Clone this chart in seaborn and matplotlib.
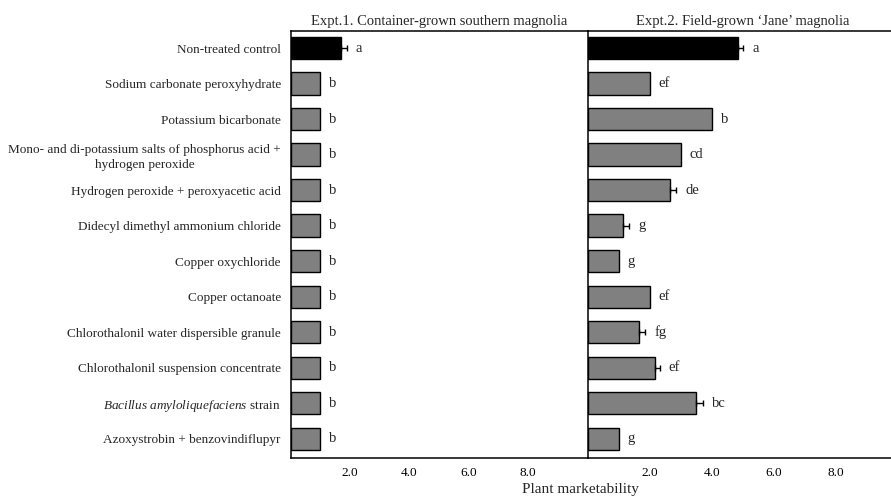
import numpy as np
import pandas as pd
import matplotlib
matplotlib.use("Agg")
import matplotlib.pyplot as plt
import seaborn as sns

# treatments, top to bottom
treatments = [
    "Non-treated control",
    "Sodium carbonate peroxyhydrate",
    "Potassium bicarbonate",
    "Mono- and di-potassium salts of phosphorus acid +\nhydrogen peroxide",
    "Hydrogen peroxide + peroxyacetic acid",
    "Didecyl dimethyl ammonium chloride",
    "Copper oxychloride",
    "Copper octanoate",
    "Chlorothalonil water dispersible granule",
    "Chlorothalonil suspension concentrate",
    r"$\it{Bacillus\ amyloliquefaciens}$ strain ",
    "Azoxystrobin + benzovindiflupyr",
]

# Expt.1 container-grown southern magnolia
expt1_values = [1.7, 1.0, 1.0, 1.0, 1.0, 1.0, 1.0, 1.0, 1.0, 1.0, 1.0, 1.0]
expt1_errors = [0.2, 0, 0, 0, 0, 0, 0, 0, 0, 0, 0, 0]
expt1_letters = ["a", "b", "b", "b", "b", "b", "b", "b", "b", "b", "b", "b"]

# Expt.2 field-grown 'Jane' magnolia
expt2_values = [4.84, 2.0, 4.0, 3.0, 2.65, 1.15, 1.0, 2.0, 1.66, 2.17, 3.49, 1.0]
expt2_errors = [0.18, 0, 0, 0, 0.2, 0.18, 0, 0, 0.19, 0.15, 0.22, 0]
expt2_letters = ["a", "ef", "b", "cd", "de", "g", "g", "ef", "fg", "ef", "bc", "g"]

panel_titles = ["Expt.1. Container-grown southern magnolia",
                "Expt.2. Field-grown \u2018Jane\u2019 magnolia"]
x_ticks = [0, 2, 4, 6, 8]
x_tick_labels = ["", "2.0", "4.0", "6.0", "8.0"]
x_label = "Plant marketability"

bar_colors = ["black"] + ["#808080"] * (len(treatments) - 1)

sns.set_style("white")
plt.rcParams["font.family"] = ["Liberation Serif", "DejaVu Serif"]
plt.rcParams["mathtext.fontset"] = "custom"
plt.rcParams["mathtext.rm"] = "Liberation Serif"
plt.rcParams["mathtext.it"] = "Liberation Serif:italic"

W, H = 891, 497
fig = plt.figure(figsize=(W / 100, H / 100), dpi=100)

top_px, bottom_px = 31, 458
ax_b = 1 - bottom_px / H
ax_h = (bottom_px - top_px) / H
ax1 = fig.add_axes([290.5 / W, ax_b, (587.7 - 290.5) / W, ax_h])
ax2 = fig.add_axes([587.7 / W, ax_b, 310 / W, ax_h])

panels = [
    (ax1, expt1_values, expt1_errors, expt1_letters, panel_titles[0]),
    (ax2, expt2_values, expt2_errors, expt2_letters, panel_titles[1]),
]

for ax, values, errors, letters, title in panels:
    df = pd.DataFrame({"treatment": treatments, "value": values})
    sns.barplot(data=df, x="value", y="treatment", hue="treatment",
                order=treatments, hue_order=treatments, palette=bar_colors,
                orient="h", errorbar=None, width=0.63, edgecolor="black",
                linewidth=1, legend=False, ax=ax)

    pos = np.arange(len(treatments))
    vals = np.array(values)
    errs = np.array(errors)
    has_err = errs > 0
    # only the upper half of each error bar is drawn
    ax.errorbar(vals[has_err], pos[has_err],
                xerr=[np.zeros(has_err.sum()), errs[has_err]],
                fmt="none", ecolor="black", elinewidth=1, capsize=2.5, capthick=1)

    # significance letters
    for y, v, e, lab in zip(pos, vals, errs, letters):
        ax.annotate(lab, xy=(v + e, y), xytext=(6.5, 0), textcoords="offset points",
                    ha="left", va="center", fontsize=10.5)

    ax.set_xlim(0, 10)
    ax.set_ylim(len(treatments) - 0.46, -0.48)
    ax.set_xticks(x_ticks)
    ax.set_xticklabels(x_tick_labels, fontsize=9.5)
    ax.tick_params(axis="x", direction="inout", length=8, width=1, pad=2.5, colors="black")
    ax.set_xlabel("")
    ax.set_ylabel("")
    ax.set_title(title, fontsize=10.5, pad=4)

    for side in ["left", "bottom", "top"]:
        ax.spines[side].set_visible(True)
        ax.spines[side].set_color("black")
        ax.spines[side].set_linewidth(1.1)
    ax.spines["right"].set_visible(False)
    ax.set_facecolor("none")

ax1.tick_params(axis="y", length=0, pad=7, labelsize=9.5)
for t in ax1.get_yticklabels():
    t.set_multialignment("center")
    t.set_linespacing(1.35)
ax2.tick_params(axis="y", left=False, labelleft=False)

fig.text(580 / W, 1 - 492.5 / H, x_label, ha="center", va="baseline", fontsize=11)

fig.savefig("out.png", dpi=100)
